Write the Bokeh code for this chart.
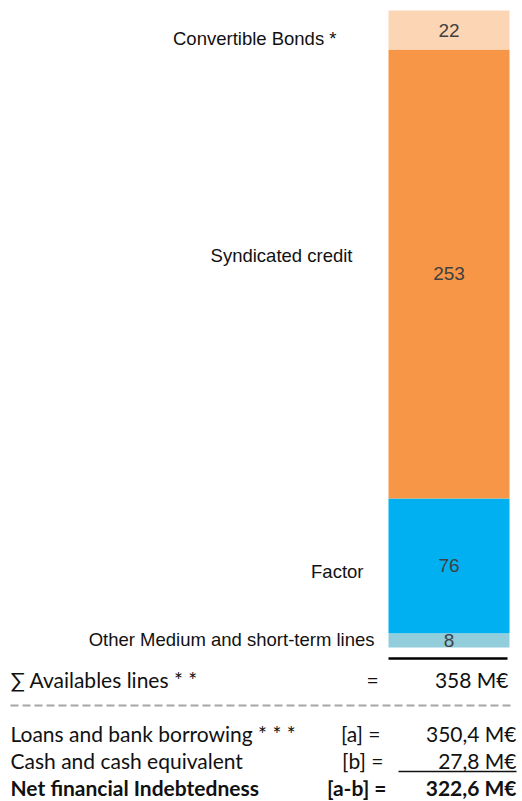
import numpy as np
from bokeh.plotting import figure
from bokeh.models import Range1d, ColumnDataSource
from bokeh.core.properties import value
from bokeh.embed import file_html
from bokeh.resources import INLINE

# ---- data ----
segments = ["Other Medium and short-term lines", "Factor", "Syndicated credit", "Convertible Bonds *"]
amounts = [8, 76, 253, 22]
colors = ["#92CDDC", "#00B0F0", "#F79646", "#FCD5B5"]
total_label = "358 M€"
summary_labels = ["Loans and bank borrowing  * * *", "Cash and cash equivalent", "Net financial Indebtedness"]
summary_keys = ["[a] =", "[b] =", "[a-b] ="]
summary_values = ["350,4 M€", "27,8 M€", "322,6 M€"]

W, H = 522, 801
bar_bottom_px, bar_top_px = 647, 10
total = sum(amounts)
k = (bar_bottom_px - bar_top_px) / total

p = figure(width=W, height=H, output_backend="svg", toolbar_location=None,
           x_range=Range1d(0, W), y_range=Range1d(H, 0), min_border=0)
p.extra_y_ranges = {"val": Range1d(start=-(H - bar_bottom_px) / k, end=total + bar_top_px / k)}
p.xaxis.visible = False
p.yaxis.visible = False
p.grid.visible = False
p.outline_line_color = None
p.background_fill_color = "white"
p.border_fill_color = "white"

tops = np.cumsum(amounts)
bottoms = tops - np.array(amounts)
src = ColumnDataSource(dict(bottom=bottoms, top=tops, color=colors,
                            mid=(bottoms + tops) / 2, lab=[str(a) for a in amounts]))
bar_x = 448.5
p.vbar(x=bar_x, width=121, bottom="bottom", top="top", fill_color="color",
       line_color=None, source=src, y_range_name="val")
p.text(x=bar_x, y="mid", text="lab", source=src, y_range_name="val",
       text_align="center", text_baseline="middle", text_color="#404040",
       text_font=value("Liberation Sans"), text_font_size="19px")

# segment labels (left of bar)
lab_x = [374, 363, 352, 336]
lab_y = [639, 571, 255, 38]
p.text(x=lab_x, y=lab_y, text=segments, text_align="right", text_baseline="middle",
       text_color="#111111", text_font=value("Liberation Sans"), text_font_size="18.5px")

FS = "21px"
# total line and row
p.line(x=[388, 507], y=[658, 658], line_color="black", line_width=2.5)
p.text(x=[10], y=[679], text=["∑ Availables lines  * *"], text_align="left", text_baseline="middle",
       text_color="#111111", text_font=value("Lato"), text_font_size=FS)
p.text(x=[372], y=[679], text=["="], text_align="center", text_baseline="middle",
       text_color="#111111", text_font=value("Lato"), text_font_size=FS)
p.text(x=[508], y=[679], text=[total_label], text_align="right", text_baseline="middle",
       text_color="#111111", text_font=value("Lato"), text_font_size=FS)

# dashed separator
p.line(x=[10, 511], y=[705, 705], line_color="#A6A6A6", line_width=2, line_dash="8 4")

rows_y = [733, 760, 787]
styles = ["normal", "normal", "bold"]
key_x = [380, 383, 386]
for i in range(3):
    p.text(x=[10], y=[rows_y[i]], text=[summary_labels[i]], text_align="left", text_baseline="middle",
           text_color="#111111", text_font=value("Lato"), text_font_size=FS,
           text_font_style=styles[i])
    p.text(x=[key_x[i]], y=[rows_y[i]], text=[summary_keys[i]], text_align="right", text_baseline="middle",
           text_color="#111111", text_font=value("Lato"), text_font_size=FS,
           text_font_style=styles[i])
    p.text(x=[516], y=[rows_y[i]], text=[summary_values[i]], text_align="right", text_baseline="middle",
           text_color="#111111", text_font=value("Lato"), text_font_size=FS,
           text_font_style=styles[i])

# underline under cash value
p.line(x=[398, 516], y=[771, 771], line_color="#111111", line_width=1.5)

open("out.html", "w").write(file_html(p, INLINE))
